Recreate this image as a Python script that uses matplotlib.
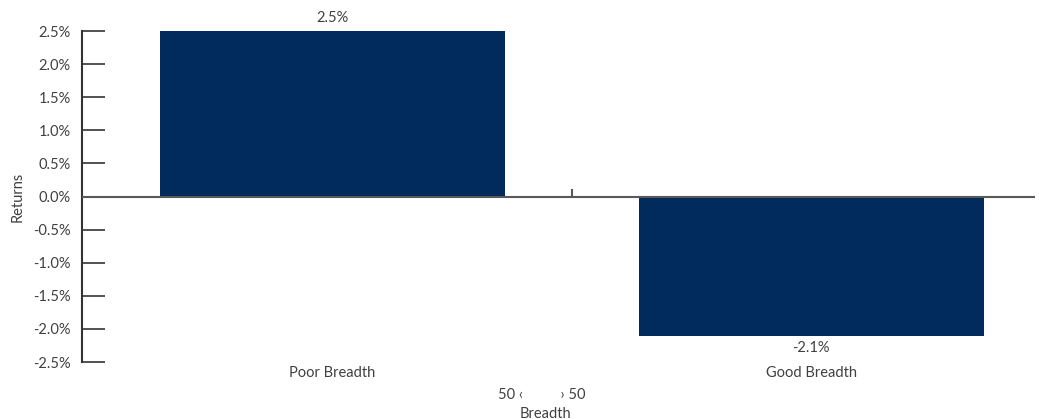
import matplotlib
matplotlib.use("Agg")
import matplotlib.pyplot as plt
from matplotlib.ticker import FuncFormatter

categories = ["Poor Breadth", "Good Breadth"]
returns = [2.5, -2.1]
value_labels = ["2.5%", "-2.1%"]
yticks = [2.5, 2.0, 1.5, 1.0, 0.5, 0.0, -0.5, -1.0, -1.5, -2.0, -2.5]

plt.rcParams["font.family"] = ["Lato", "DejaVu Sans"]

txt = "#404040"
bar_color = "#002B5C"
fs = 10.5

fig = plt.figure(figsize=(10.39, 4.19), dpi=100)
ax = fig.add_axes([82/1039, (419-362)/419, (1035-82)/1039, (362-31)/419])

x = list(range(len(categories)))
ax.bar(x, returns, width=0.72, color=bar_color, zorder=2)
ax.set_xlim(-0.523, 1.467)
ax.set_ylim(-2.5, 2.5)

ax.axhline(0, color="#595959", lw=1.5, zorder=3)
ax.vlines(0.5, 0, 0.12, color="#595959", lw=1.5, zorder=3)

for xi, v, lab in zip(x, returns, value_labels):
    if v >= 0:
        ax.annotate(lab, (xi, v), xytext=(0, 4), textcoords="offset points",
                    ha="center", va="bottom", fontsize=fs, color=txt)
    else:
        ax.annotate(lab, (xi, v), xytext=(0, -4), textcoords="offset points",
                    ha="center", va="top", fontsize=fs, color=txt)

ax.set_yticks(yticks)
ax.yaxis.set_major_formatter(FuncFormatter(lambda v, p: f"{v:.1f}%"))
ax.tick_params(axis="y", direction="in", length=16.5, width=1.2, color="#333333",
               labelcolor=txt, labelsize=fs, pad=8)

ax.set_xticks(x)
ax.set_xticklabels(categories)
ax.tick_params(axis="x", length=0, labelcolor=txt, labelsize=fs, pad=3)

for s in ["top", "right", "bottom"]:
    ax.spines[s].set_visible(False)
ax.spines["left"].set_color("#333333")
ax.spines["left"].set_linewidth(1.5)

ax.set_ylabel("Returns", fontsize=fs, color=txt, labelpad=6)
fig.text(542/1039, 1 - 395/419, "50 \u2039          \u203a 50", ha="center", va="center",
         fontsize=fs, color=txt)
fig.text(545/1039, 1 - 414/419, "Breadth", ha="center", va="center",
         fontsize=fs, color=txt)

fig.savefig("out.png", dpi=100)
